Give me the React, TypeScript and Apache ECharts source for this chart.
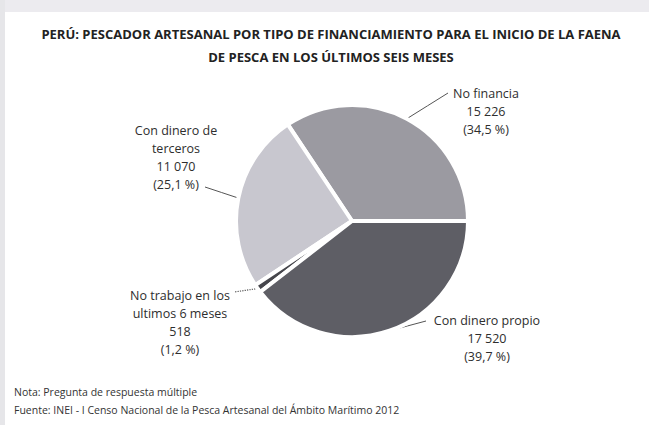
import React, { useEffect, useRef } from "react";
import * as echarts from "echarts";

const CATEGORIES = [
  "No financia",
  "Con dinero de\nterceros",
  "No trabajo en los\nultimos 6 meses",
  "Con dinero propio",
];
const VALUES = [15226, 11070, 518, 17520];
const PERCENTS = [34.5, 25.1, 1.2, 39.7];
const COLORS = ["#9b9aa1", "#c8c7cf", "#46464c", "#5e5e65"];

const TITLE =
  "PERÚ: PESCADOR ARTESANAL POR TIPO DE FINANCIAMIENTO PARA EL INICIO DE LA FAENA\nDE PESCA EN LOS ÚLTIMOS SEIS MESES";
const NOTE = "Nota: Pregunta de respuesta múltiple";
const SOURCE =
  "Fuente: INEI - I Censo Nacional de la Pesca Artesanal del Ámbito Marítimo 2012";

// label placement (annotation layout)
const LABEL_POS = [
  { x: 486, y: 84, ex: 448, ey: 93 },
  { x: 176, y: 121, ex: 205, ey: 187 },
  { x: 180, y: 286, ex: 234, ey: 292 },
  { x: 487, y: 311, ex: 426, ey: 321 },
];

const fmtNum = (v: number) =>
  String(v).replace(/\B(?=(\d{3})+(?!\d))/g, " ");
const fmtPct = (p: number) => p.toFixed(1).replace(".", ",") + " %";

export default function App() {
  const ref = useRef<HTMLDivElement>(null);
  useEffect(() => {
    if (!ref.current) return;
    const chart = echarts.init(ref.current, null, { renderer: "svg" });
    const font = "'Open Sans', 'Noto Sans', sans-serif";
    chart.setOption({
      animation: false,
      backgroundColor: "#ffffff",
      title: {
        text: TITLE,
        left: 326,
        top: 17,
        textAlign: "center",
        textStyle: {
          fontFamily: font,
          fontSize: 13,
          fontWeight: "bold",
          color: "#222",
          lineHeight: 23,
        },
      },
      graphic: [
        {
          type: "rect",
          shape: { x: 0, y: 0, width: 649, height: 12 },
          style: { fill: "#ecebef" },
          silent: true,
        },
        {
          type: "rect",
          shape: { x: 0, y: 0, width: 5, height: 425 },
          style: { fill: "#e6e6e9" },
          silent: true,
        },
        {
          type: "text",
          x: 14,
          y: 386,
          style: {
            text: NOTE,
            fontFamily: font,
            fontSize: 10.5,
            fill: "#333",
          },
        },
        {
          type: "text",
          x: 14,
          y: 404,
          style: {
            text: SOURCE,
            fontFamily: font,
            fontSize: 10.5,
            fill: "#333",
          },
        },
      ],
      series: [
        {
          type: "pie",
          center: [352, 221],
          radius: 116,
          startAngle: 0,
          clockwise: false,
          itemStyle: { borderColor: "#ffffff", borderWidth: 4 },
          label: {
            show: true,
            fontFamily: font,
            fontSize: 12.5,
            lineHeight: 18,
            color: "#2e2e2e",
            align: "center",
            formatter: (p: any) =>
              `${p.name}\n${fmtNum(p.value)}\n(${fmtPct(PERCENTS[p.dataIndex])})`,
          },
          labelLine: {
            show: true,
            lineStyle: { color: "#555", width: 1 },
          },
          labelLayout: (params: any) => {
            const pos = LABEL_POS[params.dataIndex];
            const p0 = params.labelLinePoints
              ? params.labelLinePoints[0]
              : [pos.ex, pos.ey];
            return {
              x: pos.x,
              y: pos.y,
              align: "center",
              verticalAlign: "top",
              labelLinePoints: [
                p0,
                [(p0[0] + pos.ex) / 2, (p0[1] + pos.ey) / 2],
                [pos.ex, pos.ey],
              ],
            };
          },
          data: CATEGORIES.map((name, i) => ({
            name,
            value: VALUES[i],
            itemStyle: { color: COLORS[i] },
            labelLine:
              i === 2
                ? { lineStyle: { type: "dotted", color: "#555", width: 1.2 } }
                : undefined,
          })),
        },
      ],
    });
    return () => chart.dispose();
  }, []);
  return (
    <div
      ref={ref}
      style={{ position: "fixed", left: 0, top: 0, width: 649, height: 425 }}
    />
  );
}
